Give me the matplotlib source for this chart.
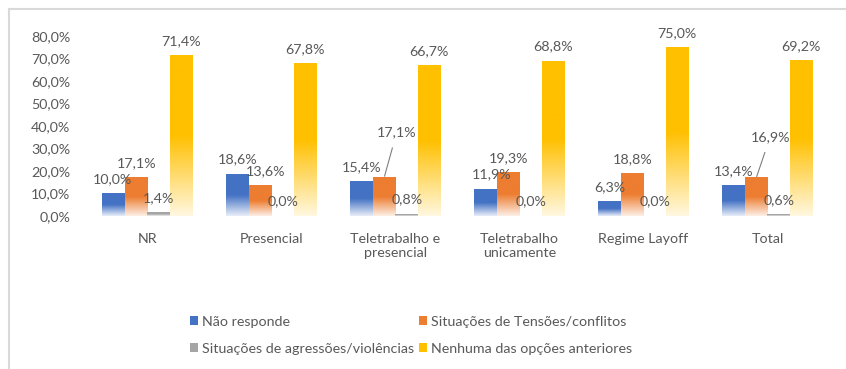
import numpy as np
import matplotlib.pyplot as plt
from matplotlib.colors import LinearSegmentedColormap, to_rgb
from matplotlib.patches import Patch
from matplotlib.lines import Line2D

plt.rcParams['font.family'] = ['Lato', 'DejaVu Sans']

categories = ['NR', 'Presencial', 'Teletrabalho e\npresencial',
              'Teletrabalho\nunicamente', 'Regime Layoff', 'Total']
series_names = ['Não responde', 'Situações de Tensões/conflitos',
                'Situações de agressões/violências', 'Nenhuma das opções anteriores']
nao_responde = [10.0, 18.6, 15.4, 11.9, 6.3, 13.4]
tensoes = [17.1, 13.6, 17.1, 19.3, 18.8, 16.9]
agressoes = [1.4, 0.0, 0.8, 0.0, 0.0, 0.6]
nenhuma = [71.4, 67.8, 66.7, 68.8, 75.0, 69.2]
y_ticks = [0, 10, 20, 30, 40, 50, 60, 70, 80]

series = [nao_responde, tensoes, agressoes, nenhuma]
colors = ['#4472C4', '#ED7D31', '#A5A5A5', '#FFC000']
text_col = '#595959'
fs = 10.3

# label nudges (points) where labels would collide; True = draw leader line
label_shift = {(1, 1): (4, 0, False), (0, 3): (4, 0, False), (0, 0): (-1, 0, False),
               (1, 2): (9, 22, True), (1, 5): (10, 19, True)}


def fmt(v):
    return '{:.1f}%'.format(v).replace('.', ',')


def fade_cmap(c):
    r, g, b = to_rgb(c)
    light = tuple(x + (1 - x) * 0.88 for x in (r, g, b))
    return LinearSegmentedColormap.from_list('f', [(0, light), (0.5, (r, g, b)), (1, (r, g, b))])


fig = plt.figure(figsize=(8.46, 3.69), dpi=100)
ax = fig.add_axes([0.101, 0.4146, 0.8795, 0.4878])

x = np.arange(len(categories))
width = 0.182
grad = np.linspace(0, 1, 256).reshape(-1, 1)

for si, vals in enumerate(series):
    cmap = fade_cmap(colors[si])
    offs = (si - 1.5) * width
    for ci, v in enumerate(vals):
        x0 = x[ci] + offs - width / 2
        if v > 0:
            ax.imshow(grad, extent=[x0, x0 + width, 0, v], origin='lower',
                      cmap=cmap, aspect='auto', vmin=0, vmax=1, zorder=2)
        dx, dy, lead = label_shift.get((si, ci), (0, 0, False))
        xy = (x[ci] + offs, v)
        if lead:
            ax.annotate(fmt(v), xy=xy, xytext=(dx, 10.5 + dy), textcoords='offset points',
                        ha='center', va='center', fontsize=fs, color=text_col, zorder=4,
                        arrowprops=dict(arrowstyle='-', color='#7f7f7f', lw=0.8,
                                        shrinkA=5, shrinkB=1))
        else:
            ax.annotate(fmt(v), xy=xy, xytext=(dx, 10.5 + dy), textcoords='offset points',
                        ha='center', va='center', fontsize=fs, color=text_col, zorder=4)

ax.set_xlim(-0.5, len(categories) - 0.5)
ax.set_ylim(0, 80)
ax.set_yticks(y_ticks)
ax.set_yticklabels([fmt(t) for t in y_ticks])
ax.set_xticks(x)
ax.set_xticklabels(categories, linespacing=1.2)
ax.tick_params(axis='y', length=0, pad=11, labelsize=fs, labelcolor=text_col)
ax.tick_params(axis='x', length=0, pad=12, labelsize=fs, labelcolor=text_col)
for s in ax.spines.values():
    s.set_visible(False)

handles = [Patch(facecolor=c, edgecolor='none') for c in colors]
order = [0, 2, 1, 3]
fig.legend([handles[i] for i in order], [series_names[i] for i in order],
           ncol=2, loc='center', bbox_to_anchor=(0.486, 0.092), frameon=False,
           fontsize=fs, labelcolor=text_col, handlelength=0.55, handleheight=0.55,
           handletextpad=0.3, columnspacing=0.35, labelspacing=1.05)

# chart frame
fc = '#d9d9d9'
fig.add_artist(Line2D([9 / 846, 9 / 846], [0, 1 - 9 / 369], color=fc, lw=1.5))
fig.add_artist(Line2D([9 / 846, 1], [1 - 9 / 369, 1 - 9 / 369], color=fc, lw=1.5))

fig.savefig('out.png', dpi=100)
